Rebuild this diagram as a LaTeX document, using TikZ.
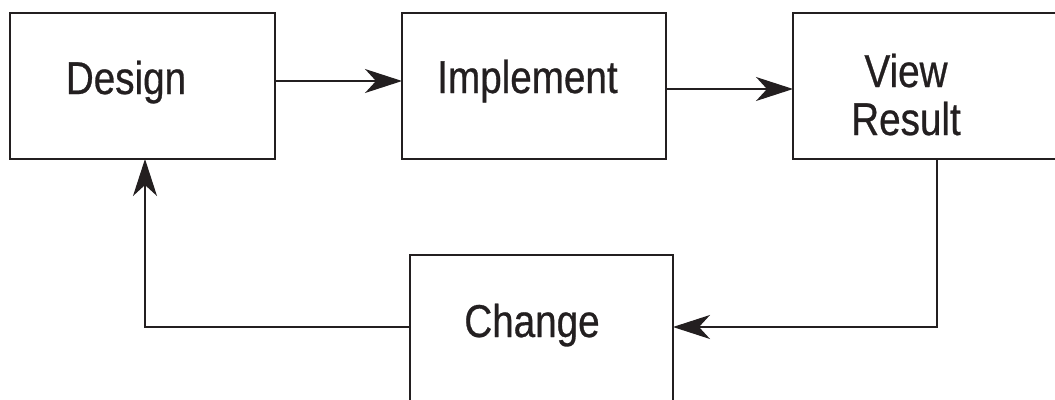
\documentclass[tikz,border=0pt]{standalone}
\usepackage{fontspec}
\newfontfamily\diafont[FakeStretch=0.84,FakeBold=0.6]{Liberation Sans}
\usetikzlibrary{arrows.meta}
\definecolor{ink}{HTML}{231F20}
\begin{document}
\begin{tikzpicture}[x=1pt,y=-1pt,
  box/.style={draw=ink,line width=1.1pt,rectangle,inner sep=0pt,outer sep=0pt},
  lbl/.style={anchor=base,inner sep=0pt,text=ink,font=\diafont\fontsize{46}{48}\selectfont},
  arr/.style={draw=ink,line width=1.1pt,-{Stealth[length=37pt,width=24pt,inset=11pt,fill=ink]}}]
\clip (0,0) rectangle (1055,399);
\fill[white] (0,0) rectangle (1055,399);
\node[box,minimum width=265pt,minimum height=146pt] (design) at (142.5,86) {};
\node[box,minimum width=264pt,minimum height=146pt] (impl) at (534,86) {};
\node[box,minimum width=300pt,minimum height=146pt] (view) at (943,86) {};
\node[box,minimum width=263pt,minimum height=165pt] (change) at (541.5,337.5) {};
\node[lbl] (tdesign) at (126,94) {Design};
\node[lbl] (timpl) at (527.5,93) {Implement};
\node[lbl] (tview) at (906,87) {View};
\node[lbl] (tresult) at (906,135) {Result};
\node[lbl] (tchange) at (532,337) {Change};
\draw[arr] ([yshift=5pt]design.east) -- ([yshift=5pt]impl.west);
\draw[arr] ([yshift=-3pt]impl.east) -- ([yshift=-3pt]view.west);
\draw[arr] ([xshift=-6pt]view.south) |- ([yshift=10.5pt]change.east);
\draw[arr] ([yshift=10.5pt]change.west) -| ([xshift=2.5pt]design.south);
\end{tikzpicture}
\end{document}
